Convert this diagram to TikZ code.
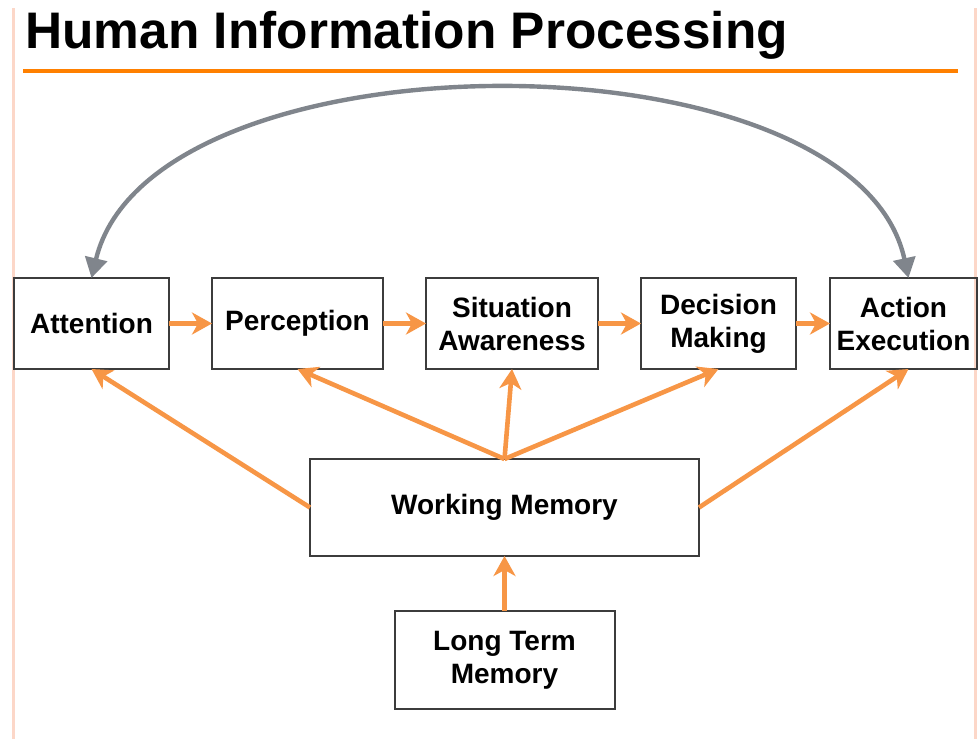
\documentclass[tikz,border=0pt]{standalone}
\usepackage{fontspec}
\setmainfont{Liberation Sans}
\usetikzlibrary{positioning, arrows.meta}
\definecolor{hipgray}{RGB}{128,133,140}
\definecolor{hiporange}{RGB}{247,150,70}
\definecolor{hiprule}{RGB}{255,128,0}
\definecolor{hippink}{RGB}{252,215,200}
\definecolor{hipedge}{RGB}{60,60,60}
\tikzset{
    procbox/.style={rectangle, draw=hipedge, line width=1pt, outer sep=0pt, minimum height=45.5pt, align=center, inner sep=2pt, font=\fontsize{14}{16.5}\selectfont\bfseries},
    flow/.style={draw=hiporange, line width=2.3pt, -{Stealth[length=10pt,width=11pt,inset=3pt]}},
    loopback/.style={draw=hipgray, line width=2.2pt, {Triangle[length=10pt,width=11pt]}-{Triangle[length=10pt,width=11pt]}}
}

\begin{document}
\begin{tikzpicture}[x=0.5pt, y=-0.5pt]
    \useasboundingbox (0,0) rectangle (979,739);
    % page frame and heading
    \draw[hippink, line width=1.5pt] (13,8) -- (13,739);
    \draw[hippink, line width=1.5pt] (975,8) -- (975,739);
    \node[anchor=base west, inner sep=0pt, font=\fontsize{25.7}{30}\selectfont\bfseries] (title) at (25,48) {Human Information Processing};
    \draw[hiprule, line width=2pt] (23,71) -- (958,71);

    % processing stages
    \node[procbox, minimum width=77.5pt] (att) at (91.5,323.5) {Attention};
    \node[procbox, minimum width=85.5pt, right=21.5pt of att] (perc) {Perception};
    \node[procbox, minimum width=86pt, right=21.5pt of perc] (sa) {Situation\\Awareness};
    \node[procbox, minimum width=77.5pt, right=21.5pt of sa] (dm) {Decision\\Making};
    \node[procbox, minimum width=73.5pt, right=17pt of dm] (ae) {Action\\Execution};

    % memory
    \node[procbox, minimum width=194.5pt, minimum height=48.5pt] (wm) at (504.5,507.5) {Working Memory};
    \node[procbox, minimum width=110pt, minimum height=49pt, below=27.5pt of wm] (ltm) {Long Term\\Memory};

    % arrows
    \draw[flow] (att) -- (perc);
    \draw[flow] (perc) -- (sa);
    \draw[flow] (sa) -- (dm);
    \draw[flow] (dm) -- (ae);
    \draw[flow] (wm.west) -- (att.south);
    \draw[flow] (wm.north) -- (perc.south);
    \draw[flow] (wm.north) -- (sa.south);
    \draw[flow] (wm.north) -- (dm.south);
    \draw[flow] (wm.east) -- ([xshift=2.5pt]ae.south);
    \draw[flow] (ltm.north) -- (wm.south);
    \draw[loopback] (att.north) .. controls +(30pt,125pt) and +(-27pt,125pt) .. ([xshift=2.5pt]ae.north);
\end{tikzpicture}
\end{document}
